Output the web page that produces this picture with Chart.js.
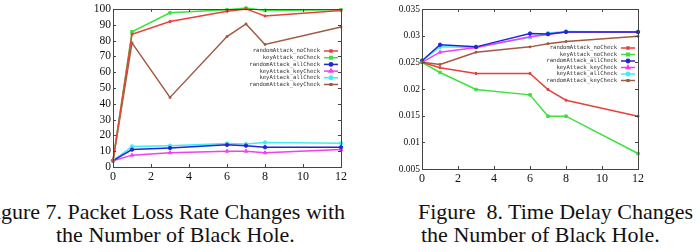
<!DOCTYPE html>
<html>
<head>
<meta charset="utf-8">
<script src="https://cdn.jsdelivr.net/npm/chart.js@4/dist/chart.umd.min.js"></script>
<style>
  body { margin: 0; background: #fff; width: 700px; height: 252px; overflow: hidden; position: relative; }
  .box { position: absolute; }
  .cap { position: absolute; font-family: "Liberation Serif", "Times New Roman", "DejaVu Serif", serif; font-size: 22px; line-height: 23px; color: #111; white-space: nowrap; }
</style>
</head>
<body>
<div class="box" style="left:85px;top:0;width:262px;height:186px"><canvas id="lossChart" width="262" height="186"></canvas></div>
<div class="box" style="left:393px;top:0;width:252px;height:188px"><canvas id="delayChart" width="252" height="188"></canvas></div>

<div class="cap" style="right:355px;top:200px">Figure 7. Packet Loss Rate Changes with</div>
<div class="cap" style="left:56px;top:223px">the Number of Black Hole.</div>
<div class="cap" style="left:418px;top:200px">Figure&nbsp; 8. Time Delay Changes</div>
<div class="cap" style="left:421px;top:223px">the Number of Black Hole.</div>

<script>
// number of black holes (x values)
const blackHoles = [0, 1, 3, 6, 7, 8, 12];
const seriesNames = ['randomAttack_noCheck', 'keyAttack_noCheck', 'randomAttack_allCheck',
                     'keyAttack_keyCheck', 'keyAttack_allCheck', 'randomAttack_keyCheck'];

// packet loss rate (%)
const lossRandomNoCheck  = [4, 84, 92, 98.5, 100, 95.5, 99];
const lossKeyNoCheck     = [4, 85.5, 97.5, 99.5, 100.5, 99, 99.5];
const lossRandomAllCheck = [4, 11, 12, 14, 13.5, 12.5, 12.5];
const lossKeyKeyCheck    = [4, 7.5, 9, 10, 10, 9, 11];
const lossKeyAllCheck    = [4, 13, 13.5, 14.8, 14.5, 15.5, 15];
const lossRandomKeyCheck = [4, 78.5, 44, 82.5, 90.5, 77.5, 88.5];

// time delay
const delayRandomNoCheck  = [0.025, 0.024, 0.0229, 0.0229, 0.0199, 0.0179, 0.0149];
const delayKeyNoCheck     = [0.025, 0.0231, 0.0199, 0.0189, 0.0149, 0.0149, 0.0079];
const delayRandomAllCheck = [0.0253, 0.0283, 0.0279, 0.0304, 0.0303, 0.0307, 0.0307];
const delayKeyKeyCheck    = [0.025, 0.0269, 0.0278, 0.0298, 0.0302, 0.0307, 0.0307];
const delayKeyAllCheck    = [0.0253, 0.0279, 0.0278, 0.0297, 0.0305, 0.0308, 0.0307];
const delayRandomKeyCheck = [0.025, 0.0246, 0.0269, 0.0279, 0.0285, 0.0289, 0.0299];

// tick labels
const xTicks = [0, 2, 4, 6, 8, 10, 12];
const lossTicks = [0, 10, 20, 30, 40, 50, 60, 70, 80, 90, 100];
const delayTicks = ['0.005', '0.01', '0.015', '0.02', '0.025', '0.03', '0.035'];

// gnuplot-like line styles
const styles = [
  { color: '#e8403c', point: 'rect', r: 1.3 },
  { color: '#3ee03e', point: 'rect', r: 1.8 },
  { color: '#2424d8', point: 'circle', r: 1.7 },
  { color: '#f040f0', point: 'triangle', r: 2 },
  { color: '#40eef0', point: 'circle', r: 1.7 },
  { color: '#a05a42', point: 'rect', r: 1.2 }
];

function makeDatasets(list) {
  return list.map(function (vals, i) {
    const st = styles[i];
    return {
      label: seriesNames[i],
      data: vals.map(function (v, k) { return { x: blackHoles[k], y: v }; }),
      borderColor: st.color,
      backgroundColor: st.color,
      borderWidth: 1.5,
      pointStyle: st.point,
      pointRadius: st.r,
      pointBorderWidth: 1,
      tension: 0,
      clip: false
    };
  });
}

// box around the plot with inner ticks, gnuplot style
const boxPlugin = {
  id: 'boxPlugin',
  afterDatasetsDraw(chart) {
    const c = chart.ctx, a = chart.chartArea;
    const xs = chart.scales.x, ys = chart.scales.y;
    c.save();
    c.strokeStyle = '#444';
    c.lineWidth = 1;
    c.strokeRect(Math.round(a.left) + 0.5, Math.round(a.top) + 0.5,
                 Math.round(a.right - a.left), Math.round(a.bottom - a.top));
    c.beginPath();
    xs.ticks.forEach(function (t) {
      const px = Math.round(xs.getPixelForValue(t.value)) + 0.5;
      c.moveTo(px, a.bottom); c.lineTo(px, a.bottom - 3);
      c.moveTo(px, a.top); c.lineTo(px, a.top + 3);
    });
    ys.ticks.forEach(function (t) {
      const py = Math.round(ys.getPixelForValue(t.value)) + 0.5;
      c.moveTo(a.left, py); c.lineTo(a.left + 3, py);
      c.moveTo(a.right, py); c.lineTo(a.right - 3, py);
    });
    c.stroke();
    c.restore();
  }
};

// key: right aligned text with the line sample on its right
const keyPlugin = {
  id: 'keyPlugin',
  afterDraw(chart, args, opts) {
    const c = chart.ctx;
    c.save();
    c.font = '5.6px "DejaVu Sans Mono", monospace';
    c.textAlign = 'right';
    c.textBaseline = 'middle';
    chart.data.datasets.forEach(function (ds, i) {
      const y = opts.top + i * opts.step;
      c.fillStyle = '#333';
      c.fillText(ds.label, opts.right, y);
      c.strokeStyle = ds.borderColor;
      c.lineWidth = 1.5;
      c.beginPath();
      c.moveTo(opts.right + 4, y);
      c.lineTo(opts.right + 18, y);
      c.stroke();
      c.fillStyle = ds.borderColor;
      Chart.helpers.drawPoint(c, { pointStyle: ds.pointStyle, radius: ds.pointRadius, borderWidth: 1 },
                              opts.right + 11, y);
    });
    c.restore();
  }
};

function fixWidth(w) {
  return function (scale) { scale.width = w; };
}
function fixHeight(h) {
  return function (scale) { scale.height = h; scale.paddingLeft = 0; scale.paddingRight = 0; };
}

const serifFont = '"Liberation Serif", "Times New Roman", "DejaVu Serif", serif';

function renderChart(id, datasets, yMin, yMax, yStep, yFont, yLabel, pad, yWidth, keyOpts) {
  new Chart(document.getElementById(id), {
    type: 'line',
    data: { datasets: datasets },
    options: {
      responsive: false,
      animation: false,
      layout: { padding: pad },
      plugins: {
        legend: { display: false },
        tooltip: { enabled: false },
        keyPlugin: keyOpts
      },
      scales: {
        x: {
          type: 'linear', min: 0, max: 12,
          grid: { display: false, drawTicks: false },
          border: { display: false },
          afterFit: fixHeight(19),
          afterBuildTicks: function (s) { s.ticks = xTicks.map(function (v) { return { value: v }; }); },
          ticks: { padding: 3, maxRotation: 0, autoSkip: false, color: '#111',
                   font: { family: serifFont, size: 12 } }
        },
        y: {
          min: yMin, max: yMax,
          grid: { display: false, drawTicks: false },
          border: { display: false },
          afterFit: fixWidth(yWidth),
          ticks: { stepSize: yStep, padding: 2, autoSkip: false, color: '#111', callback: yLabel,
                   font: { family: serifFont, size: yFont } }
        }
      }
    },
    plugins: [boxPlugin, keyPlugin]
  });
}

renderChart('lossChart',
  makeDatasets([lossRandomNoCheck, lossKeyNoCheck, lossRandomAllCheck, lossKeyKeyCheck, lossKeyAllCheck, lossRandomKeyCheck]),
  0, 100, 10, 11.5,
  function (v, i) { return lossTicks[i]; },
  { top: 7, right: 6, left: 0, bottom: 0 }, 28,
  { right: 235, top: 51, step: 6.7 });

renderChart('delayChart',
  makeDatasets([delayRandomNoCheck, delayKeyNoCheck, delayRandomAllCheck, delayKeyKeyCheck, delayKeyAllCheck, delayRandomKeyCheck]),
  0.005, 0.035, 0.005, 9.5,
  function (v, i) { return delayTicks[i]; },
  { top: 9, right: 7, left: 0, bottom: 0 }, 29,
  { right: 224, top: 48, step: 6.5 });
</script>
</body>
</html>
